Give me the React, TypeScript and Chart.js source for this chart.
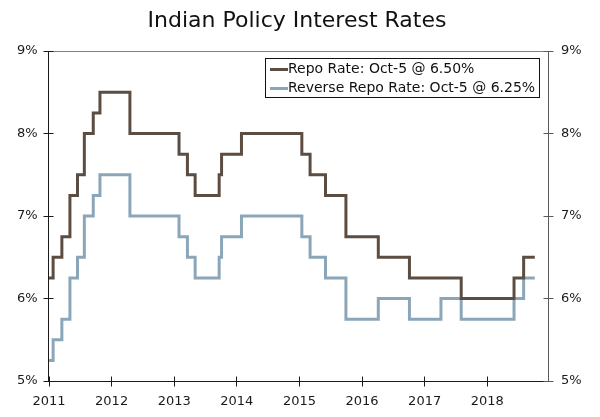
import React, { useEffect, useRef } from 'react';
import { Chart, registerables } from 'chart.js';

Chart.register(...registerables);

const TITLE = 'Indian Policy Interest Rates';
const repoLabel = 'Repo Rate: Oct-5 @ 6.50%';
const reverseLabel = 'Reverse Repo Rate: Oct-5 @ 6.25%';

const repoDates = [
  '2011-01-01', '2011-01-25', '2011-03-17', '2011-05-03', '2011-06-16', '2011-07-26',
  '2011-09-16', '2011-10-25', '2012-04-17', '2013-01-29', '2013-03-19', '2013-05-03',
  '2013-09-20', '2013-10-04', '2014-01-28', '2015-01-15', '2015-03-04', '2015-06-02',
  '2015-09-29', '2016-04-05', '2016-10-04', '2017-08-02', '2018-06-06', '2018-08-01',
  '2018-10-05',
];
const repoRates = [
  6.25, 6.5, 6.75, 7.25, 7.5, 8.0,
  8.25, 8.5, 8.0, 7.75, 7.5, 7.25,
  7.5, 7.75, 8.0, 7.75, 7.5, 7.25,
  6.75, 6.5, 6.25, 6.0, 6.25, 6.5,
  6.5,
];

const reverseDates = [
  '2011-01-01', '2011-01-25', '2011-03-17', '2011-05-03', '2011-06-16', '2011-07-26',
  '2011-09-16', '2011-10-25', '2012-04-17', '2013-01-29', '2013-03-19', '2013-05-03',
  '2013-09-20', '2013-10-04', '2014-01-28', '2015-01-15', '2015-03-04', '2015-06-02',
  '2015-09-29', '2016-04-05', '2016-10-04', '2017-04-06', '2017-08-02', '2018-06-06',
  '2018-08-01', '2018-10-05',
];
const reverseRates = [
  5.25, 5.5, 5.75, 6.25, 6.5, 7.0,
  7.25, 7.5, 7.0, 6.75, 6.5, 6.25,
  6.5, 6.75, 7.0, 6.75, 6.5, 6.25,
  5.75, 6.0, 5.75, 6.0, 5.75, 6.0,
  6.25, 6.25,
];

const yearTicks = [2011, 2012, 2013, 2014, 2015, 2016, 2017, 2018];
const rateTicks = [5, 6, 7, 8, 9];

const REPO_COLOR = '#5c4d42';
const REVERSE_COLOR = '#8ba6b9';
const FONT = '"DejaVu Sans", Verdana, sans-serif';

function toYear(d: string): number {
  const [y, m, day] = d.split('-').map(Number);
  const start = Date.UTC(y, 0, 1);
  const end = Date.UTC(y + 1, 0, 1);
  return y + (Date.UTC(y, m - 1, day) - start) / (end - start);
}

const crisp = (v: number) => Math.round(v - 0.5) + 0.5;

const decorPlugin = {
  id: 'decorPlugin',
  beforeDatasetsDraw(chart: any) {
    const { ctx, chartArea: a, scales } = chart;
    const L = crisp(a.left), R = crisp(a.right), T = crisp(a.top), B = crisp(a.bottom);
    const line = (x1: number, y1: number, x2: number, y2: number, c: string) => {
      ctx.strokeStyle = c;
      ctx.beginPath();
      ctx.moveTo(x1, y1);
      ctx.lineTo(x2, y2);
      ctx.stroke();
    };
    ctx.save();
    ctx.lineWidth = 1;
    line(L, T, R, T, '#808080');
    line(R, T, R, B + 0.5, '#5a5a5a');
    line(L, T, L, B, '#1a1a1a');
    line(L - 0.5, B, R, B, '#1a1a1a');
    scales.x.ticks.forEach((t: any) => {
      const px = crisp(scales.x.getPixelForValue(t.value));
      line(px, B - 5, px, B + 5, '#1a1a1a');
    });
    scales.y.ticks.forEach((t: any) => {
      const py = crisp(scales.y.getPixelForValue(t.value));
      line(L - 5, py, L + 5, py, '#1a1a1a');
    });
    scales.y2.ticks.forEach((t: any) => {
      const py = crisp(scales.y2.getPixelForValue(t.value));
      line(R - 5, py, R + 5, py, '#5a5a5a');
    });
    ctx.restore();
  },
  afterDraw(chart: any) {
    const { ctx } = chart;
    ctx.save();
    // title
    ctx.fillStyle = '#111';
    ctx.font = `22px ${FONT}`;
    ctx.textAlign = 'center';
    ctx.textBaseline = 'alphabetic';
    ctx.fillText(TITLE, 297, 27);
    // legend
    const bx = 265.5, by = 58.5, bw = 274, bh = 39;
    ctx.fillStyle = '#ffffff';
    ctx.fillRect(bx, by, bw, bh);
    ctx.strokeStyle = '#111';
    ctx.lineWidth = 1;
    ctx.strokeRect(bx, by, bw, bh);
    const items = chart.data.datasets.map((ds: any) => ({ label: ds.label, color: ds.borderColor }));
    const rowsY = [69.5, 88.5];
    ctx.font = `14px ${FONT}`;
    ctx.textAlign = 'left';
    ctx.textBaseline = 'middle';
    items.forEach((it: any, i: number) => {
      const y = rowsY[i];
      ctx.strokeStyle = it.color;
      ctx.lineWidth = 3;
      ctx.beginPath();
      ctx.moveTo(270, y);
      ctx.lineTo(288, y);
      ctx.stroke();
      ctx.fillStyle = '#111';
      ctx.fillText(it.label, 288, y);
    });
    ctx.restore();
  },
};

export default function App() {
  const canvasRef = useRef<HTMLCanvasElement | null>(null);

  useEffect(() => {
    if (!canvasRef.current) return;
    const repoPoints = repoDates.map((d, i) => ({ x: toYear(d), y: repoRates[i] }));
    const reversePoints = reverseDates.map((d, i) => ({ x: toYear(d), y: reverseRates[i] }));

    const tickFont = { family: FONT, size: 13 };
    const noGrid = { display: false, drawTicks: false, tickLength: 0 };
    const chart = new Chart(canvasRef.current, {
      type: 'line',
      data: {
        datasets: [
          {
            label: repoLabel,
            data: repoPoints,
            borderColor: REPO_COLOR,
            backgroundColor: REPO_COLOR,
            borderWidth: 3,
            pointRadius: 0,
            stepped: 'before',
            yAxisID: 'y',
          },
          {
            label: reverseLabel,
            data: reversePoints,
            borderColor: REVERSE_COLOR,
            backgroundColor: REVERSE_COLOR,
            borderWidth: 3,
            pointRadius: 0,
            stepped: 'before',
            yAxisID: 'y',
          },
        ],
      },
      options: {
        animation: false,
        responsive: true,
        maintainAspectRatio: false,
        layout: { padding: { top: 51, left: 0, right: 0, bottom: 0 } },
        plugins: {
          legend: { display: false },
          title: { display: false },
          tooltip: { enabled: false },
        },
        scales: {
          x: {
            type: 'linear',
            min: 2010.992,
            max: 2018.97,
            grid: noGrid,
            border: { display: false },
            afterBuildTicks: (s: any) => {
              s.ticks = yearTicks.map((v) => ({ value: v }));
            },
            afterFit: (s: any) => {
              s.height = 36;
            },
            ticks: {
              font: tickFont,
              color: '#1a1a1a',
              padding: 13,
              maxRotation: 0,
              autoSkip: false,
              callback: (v: any) => String(v),
            },
          },
          y: {
            position: 'left',
            min: 5,
            max: 9,
            grid: noGrid,
            border: { display: false },
            afterBuildTicks: (s: any) => {
              s.ticks = rateTicks.map((v) => ({ value: v }));
            },
            afterFit: (s: any) => {
              s.width = 48.5;
            },
            ticks: {
              font: tickFont,
              color: '#1a1a1a',
              padding: 11,
              callback: (v: any) => v + '%',
            },
          },
          y2: {
            position: 'right',
            min: 5,
            max: 9,
            grid: noGrid,
            border: { display: false },
            afterBuildTicks: (s: any) => {
              s.ticks = rateTicks.map((v) => ({ value: v }));
            },
            afterFit: (s: any) => {
              s.width = 52;
            },
            ticks: {
              font: tickFont,
              color: '#1a1a1a',
              padding: 13,
              callback: (v: any) => v + '%',
            },
          },
        },
      },
      plugins: [decorPlugin],
    });
    return () => chart.destroy();
  }, []);

  return (
    <div style={{ position: 'fixed', left: 0, top: 0, width: 600, height: 417, background: '#fff' }}>
      <canvas ref={canvasRef} />
    </div>
  );
}
